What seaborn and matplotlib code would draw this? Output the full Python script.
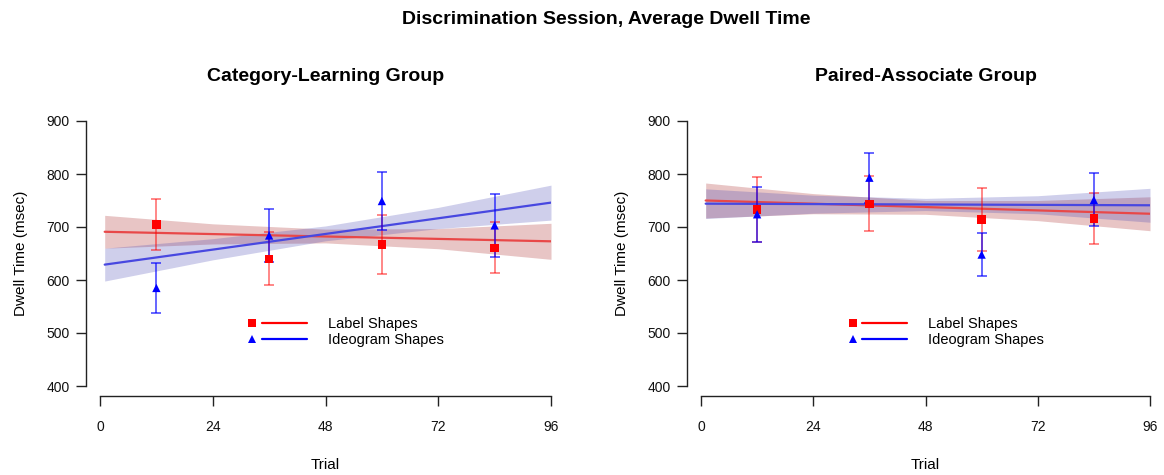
import matplotlib
matplotlib.use("Agg")
import matplotlib.pyplot as plt
import seaborn as sns
import pandas as pd
from matplotlib.lines import Line2D
from matplotlib.legend_handler import HandlerBase

# ---------------- data ----------------
shape_names = ["Label Shapes", "Ideogram Shapes"]
panel_titles = ["Category-Learning Group", "Paired-Associate Group"]
suptitle_text = "Discrimination Session, Average Dwell Time"
x_ticks = [0, 24, 48, 72, 96]
y_ticks = [400, 500, 600, 700, 800, 900]

trial_bins = [12, 36, 60, 84]

cl_label_mean = [705, 640, 667, 661]
cl_label_err = [48, 50, 56, 48]
cl_ideo_mean = [585, 684, 749, 703]
cl_ideo_err = [48, 50, 54, 60]

pa_label_mean = [733, 744, 714, 716]
pa_label_err = [61, 52, 59, 49]
pa_ideo_mean = [724, 793, 648, 751]
pa_ideo_err = [52, 47, 40, 50]

fit_x = [1, 96]
cl_label_fit = [691, 673]
cl_ideo_fit = [629, 746]
pa_label_fit = [750, 725]
pa_ideo_fit = [744, 741]

band_x = [1, 24, 48, 72, 96]
cl_label_lo = [660, 668, 670, 659, 639]
cl_label_hi = [722, 706, 696, 697, 707]
cl_ideo_lo = [598, 638, 674, 697, 713]
cl_ideo_hi = [660, 678, 702, 737, 779]
pa_label_lo = [717, 725, 724, 712, 693]
pa_label_hi = [783, 763, 750, 750, 757]
pa_ideo_lo = [716, 726, 731, 725, 709]
pa_ideo_hi = [772, 760, 754, 759, 773]

# ---------------- style ----------------
sns.set_style("ticks")
plt.rcParams["font.family"] = ["Liberation Sans", "DejaVu Sans"]
plt.rcParams["text.color"] = "black"
plt.rcParams["axes.labelcolor"] = "black"

RED = "#FF0000"
BLUE = "#0000FF"
palette = {"Label Shapes": RED, "Ideogram Shapes": BLUE}
line_pal = {"Label Shapes": "#E84848", "Ideogram Shapes": "#4848E0"}
band_col = {"Label Shapes": ((0.70, 0.25, 0.25), 0.30),
            "Ideogram Shapes": ((0.25, 0.25, 0.70), 0.25)}
err_col = {"Label Shapes": (1.0, 0.0, 0.0, 0.55), "Ideogram Shapes": (0.0, 0.0, 1.0, 0.70)}
markers = {"Label Shapes": "s", "Ideogram Shapes": "^"}


class MarkerLineHandler(HandlerBase):
    def create_artists(self, legend, orig_handle, xdescent, ydescent,
                       width, height, fontsize, trans):
        y = height / 2.0 - ydescent
        x0 = -xdescent
        mk = Line2D([x0 + 0.09 * width], [y], linestyle="none",
                    marker=orig_handle.get_marker(),
                    markersize=orig_handle.get_markersize(),
                    color=orig_handle.get_color(), markeredgewidth=0)
        ln = Line2D([x0 + 0.25 * width, x0 + width], [y, y],
                    color=orig_handle.get_color(), linewidth=1.6)
        mk.set_transform(trans)
        ln.set_transform(trans)
        return [mk, ln]


fig = plt.figure(figsize=(11.64, 4.75), dpi=100)
W, H = 1164.0, 475.0
ax_boxes = [(100, 551), (701, 1150)]
top_px, bot_px = 121, 386

panels = [
    dict(means=[cl_label_mean, cl_ideo_mean], errs=[cl_label_err, cl_ideo_err],
         fits=[cl_label_fit, cl_ideo_fit], los=[cl_label_lo, cl_ideo_lo],
         his=[cl_label_hi, cl_ideo_hi]),
    dict(means=[pa_label_mean, pa_ideo_mean], errs=[pa_label_err, pa_ideo_err],
         fits=[pa_label_fit, pa_ideo_fit], los=[pa_label_lo, pa_ideo_lo],
         his=[pa_label_hi, pa_ideo_hi]),
]

for i, (panel, (x0, x1)) in enumerate(zip(panels, ax_boxes)):
    ax = fig.add_axes([x0 / W, 1 - bot_px / H, (x1 - x0) / W, (bot_px - top_px) / H])

    # bands
    for name, lo, hi in zip(shape_names, panel["los"], panel["his"]):
        c, a = band_col[name]
        ax.fill_between(band_x, lo, hi, color=c, alpha=a, linewidth=0, zorder=1)

    # fitted lines
    fit_df = pd.DataFrame({
        "trial": fit_x * 2,
        "fit": panel["fits"][0] + panel["fits"][1],
        "shape": [shape_names[0]] * len(fit_x) + [shape_names[1]] * len(fit_x),
    })
    sns.lineplot(data=fit_df, x="trial", y="fit", hue="shape", palette=line_pal,
                 linewidth=1.6, legend=False, ax=ax, zorder=2)

    # error bars
    for name, m, e in zip(shape_names, panel["means"], panel["errs"]):
        ax.errorbar(trial_bins, m, yerr=e, fmt="none", ecolor=err_col[name],
                    elinewidth=1.2, capsize=3.4, capthick=1.2, zorder=3)

    # points
    pts = pd.DataFrame({
        "trial": trial_bins * 2,
        "mean": panel["means"][0] + panel["means"][1],
        "shape": [shape_names[0]] * 4 + [shape_names[1]] * 4,
    })
    sns.scatterplot(data=pts, x="trial", y="mean", hue="shape", style="shape",
                    palette=palette, markers=markers, s=36, linewidth=0,
                    legend=False, ax=ax, zorder=4)

    ax.set_xlim(0, 96)
    ax.set_ylim(400, 900)
    ax.set_xticks(x_ticks)
    ax.set_yticks(y_ticks)
    ax.set_xticklabels([str(v) for v in x_ticks])
    ax.set_yticklabels([str(v) for v in y_ticks])
    for s in ["top", "right"]:
        ax.spines[s].set_visible(False)
    ax.spines["left"].set_position(("outward", 10))
    ax.spines["bottom"].set_position(("outward", 7.2))
    ax.spines["left"].set_bounds(400, 900)
    ax.spines["bottom"].set_bounds(0, 96)
    for s in ["left", "bottom"]:
        ax.spines[s].set_color("#222222")
        ax.spines[s].set_linewidth(1.0)
    ax.tick_params(axis="both", direction="out", length=7, width=1.0,
                   color="#222222", labelsize=10, labelcolor="#111111")
    ax.tick_params(axis="y", pad=5)
    ax.tick_params(axis="x", pad=10.5)

    ax.set_xlabel("Trial", fontsize=11)
    ax.set_ylabel("Dwell Time (msec)", fontsize=11)
    ax.xaxis.set_label_coords(0.5, -0.273)
    ax.yaxis.set_label_coords(-0.16, 0.5)
    ax.set_title(panel_titles[i], fontsize=14, fontweight="bold", pad=29,
                 color="black")

    handles = [Line2D([], [], color=palette[n], marker=markers[n], markersize=5.5)
               for n in shape_names]
    ax.legend(handles=handles, labels=shape_names,
              handler_map={Line2D: MarkerLineHandler()},
              loc="center left", bbox_to_anchor=(0.326, 0.203),
              frameon=False, fontsize=10.5, handlelength=4.1,
              handletextpad=1.44, labelspacing=0.12, borderpad=0,
              borderaxespad=0)

fig.text(606 / W, 1 - 20 / H, suptitle_text, ha="center", va="center",
         fontsize=14, fontweight="bold", color="black")

fig.savefig("out.png", dpi=100)
